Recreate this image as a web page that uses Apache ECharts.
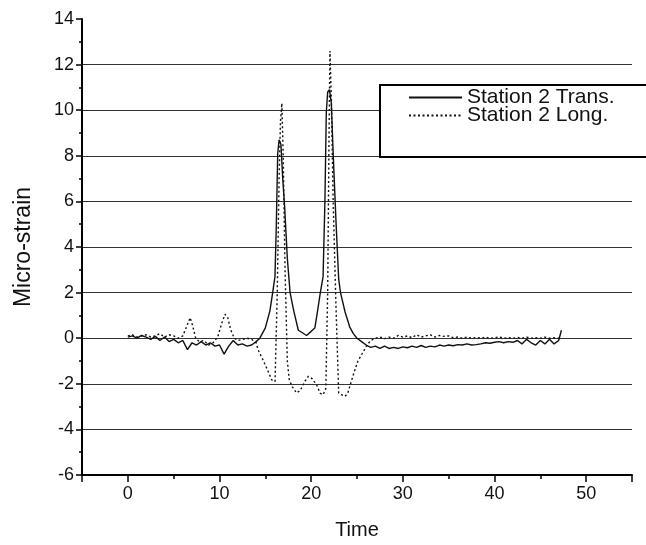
<!DOCTYPE html>
<html>
<head>
<meta charset="utf-8">
<script src="https://cdn.jsdelivr.net/npm/echarts@6/dist/echarts.min.js"></script>
<style>
html,body{margin:0;padding:0;background:#fff;}
#chart{width:646px;height:545px;}
</style>
</head>
<body>
<div id="chart"></div>
<script>
// Station 2 Trans. (solid) : [time, micro-strain]
const transPoints = [
  [0,0.05],[0.5,0.1],[1,0.0],[1.5,0.12],[2,0.05],[2.5,-0.05],[3,0.08],[3.5,-0.1],[4,0.05],[4.5,-0.15],
  [5,-0.05],[5.5,-0.2],[6,-0.1],[6.5,-0.5],[7,-0.2],[7.5,-0.3],[8,-0.15],[8.5,-0.3],[9,-0.2],[9.5,-0.35],
  [10,-0.3],[10.5,-0.7],[11,-0.35],[11.5,-0.1],[12,-0.3],[12.5,-0.25],[13,-0.35],[13.5,-0.3],[14,-0.15],[14.4,0.0],
  [15,0.45],[15.5,1.2],[15.8,2.0],[16.05,2.7],[16.2,5],[16.35,8.1],[16.5,8.7],[16.7,8.5],[16.9,7],[17.1,5.8],
  [17.4,3.5],[17.7,2.0],[18.1,1.2],[18.6,0.35],[19,0.25],[19.5,0.12],[20,0.3],[20.4,0.45],[20.7,1.2],[21,2.0],
  [21.3,2.7],[21.5,6],[21.65,9.9],[21.8,10.8],[22,10.9],[22.2,10.3],[22.4,8.1],[22.7,5.2],[23,2.6],[23.2,2.0],
  [23.7,1.15],[24.2,0.5],[24.6,0.2],[25,0.0],[25.5,-0.15],[26,-0.3],[26.5,-0.4],[27,-0.35],[27.5,-0.45],[28,-0.35],
  [28.5,-0.45],[29,-0.4],[29.5,-0.45],[30,-0.38],[30.5,-0.42],[31,-0.35],[31.5,-0.4],[32,-0.32],[32.5,-0.4],[33,-0.35],
  [33.5,-0.38],[34,-0.3],[34.5,-0.35],[35,-0.3],[35.5,-0.33],[36,-0.28],[36.5,-0.3],[37,-0.25],[37.5,-0.3],[38,-0.28],
  [38.5,-0.25],[39,-0.2],[39.5,-0.22],[40,-0.18],[40.5,-0.15],[41,-0.2],[41.5,-0.15],[42,-0.18],[42.5,-0.1],[43,-0.25],
  [43.5,-0.05],[44,-0.2],[44.5,-0.3],[45,-0.1],[45.5,-0.25],[46,-0.05],[46.5,-0.25],[47,-0.1],[47.3,0.35]
];
// Station 2 Long. (dotted) : [time, micro-strain]
const longPoints = [
  [0,0.1],[0.5,0.15],[1,0.05],[1.5,0.1],[2,0.15],[2.5,0.05],[3,0.1],[3.5,0.2],[4,0.05],[4.5,0.15],
  [5,0.1],[5.5,0.0],[6,0.1],[6.4,0.5],[6.8,0.9],[7.1,0.5],[7.4,0.0],[7.8,-0.15],[8.3,-0.1],[8.8,-0.3],
  [9.3,-0.2],[9.8,0.05],[10.2,0.6],[10.6,1.05],[10.9,0.9],[11.2,0.4],[11.6,0.0],[12,-0.1],[12.5,-0.05],[13,0.0],
  [13.5,-0.05],[14,-0.2],[14.2,-0.5],[14.8,-1.0],[15.3,-1.45],[15.7,-1.83],[16.06,-1.9],[16.3,2],[16.5,7],[16.65,9.5],
  [16.8,10.3],[16.95,8],[17.15,3],[17.4,-1.0],[17.6,-1.8],[17.9,-2.1],[18.4,-2.4],[18.8,-2.3],[19.3,-1.9],[19.7,-1.67],
  [20.1,-1.77],[20.6,-2.05],[20.97,-2.41],[21.3,-2.48],[21.6,-2.2],[21.8,2],[21.95,9],[22.05,12.6],[22.2,10.5],[22.4,6],
  [22.7,1.5],[23,-2.4],[23.4,-2.5],[23.7,-2.55],[24,-2.4],[24.6,-1.6],[25.1,-1.0],[25.7,-0.58],[26.1,-0.3],[26.5,-0.1],
  [27,0.0],[27.5,0.05],[28,-0.02],[28.5,0.05],[29,0.0],[29.5,0.12],[30,0.05],[30.5,0.1],[31,0.02],[31.5,0.15],
  [32,0.05],[32.5,0.1],[33,0.15],[33.5,0.05],[34,0.12],[34.5,0.08],[35,0.1],[35.5,0.02],[36,0.05],[36.5,0.0],
  [37,0.05],[37.5,0.0],[38,0.03],[38.5,0.0],[39,0.05],[39.5,0.0],[40,0.02],[40.5,0.05],[41,0.0],[41.5,0.02],
  [42,0.0],[42.5,0.03],[43,0.0],[43.5,0.05],[44,0.0],[44.5,0.02],[45,0.0],[45.5,0.05],[46,0.0],[46.5,0.02],[47,0.0],[47.3,0.05]
];
const seriesNames = ['Station 2 Trans.', 'Station 2 Long.'];
const xMin = -5, xMax = 55, xStep = 5;
const yMin = -6, yMax = 14, yStep = 2;

const chart = echarts.init(document.getElementById('chart'), null, {renderer: 'canvas'});
const font = 'Liberation Sans, Arial, sans-serif';
const option = {
  animation: false,
  backgroundColor: '#fff',
  grid: {left: 82, right: 14, top: 19, bottom: 68, containLabel: false},
  legend: {
    orient: 'vertical', left: 380, top: 85,
    padding: [2, 40, 31, 28], itemGap: -3, itemWidth: 53, itemHeight: 14,
    borderColor: '#000', borderWidth: 2, backgroundColor: '#fff',
    itemStyle: {color: 'rgba(0,0,0,0)', borderWidth: 0, opacity: 0},
    textStyle: {fontFamily: font, fontSize: 21, color: '#111'},
    data: seriesNames
  },
  xAxis: [{
    type: 'value', min: xMin, max: xMax, interval: xStep,
    name: 'Time', nameLocation: 'middle', nameGap: 45,
    nameTextStyle: {fontFamily: font, fontSize: 20, color: '#111'},
    axisLine: {show: true, onZero: false, lineStyle: {color: '#000', width: 2}},
    axisTick: {show: true, inside: false, length: 4, lineStyle: {color: '#000', width: 1.5}},
    axisLabel: {margin: 10, fontFamily: font, fontSize: 18, color: '#111',
      formatter: v => (v % 10 === 0 && v >= 0 && v <= 50) ? String(v) : ''},
    splitLine: {show: false}
  }, {
    type: 'value', min: xMin, max: xMax, splitNumber: 6, position: 'bottom',
    axisLine: {show: false, onZero: false},
    axisTick: {show: true, inside: false, length: 7, lineStyle: {color: '#000', width: 1.5}},
    axisLabel: {show: false},
    splitLine: {show: false}
  }],
  yAxis: {
    type: 'value', min: yMin, max: yMax, interval: yStep,
    name: 'Micro-strain', nameLocation: 'middle', nameGap: 47,
    nameTextStyle: {fontFamily: font, fontSize: 23, color: '#111'},
    axisLine: {show: true, onZero: false, lineStyle: {color: '#000', width: 2}},
    axisTick: {show: true, inside: false, length: 6, lineStyle: {color: '#000', width: 1.5}},
    minorTick: {show: true, splitNumber: 2, length: 3, lineStyle: {color: '#000', width: 1.5}},
    axisLabel: {margin: 8, fontFamily: font, fontSize: 18, color: '#111'},
    splitLine: {show: true, showMinLine: false, showMaxLine: false, lineStyle: {color: '#333', width: 1.2}}
  },
  series: [{
    name: seriesNames[0], type: 'line', data: transPoints, symbol: 'none', showSymbol: false,
    lineStyle: {color: '#111', width: 1.4, type: 'solid'}, itemStyle: {color: '#111'}, z: 3
  }, {
    name: seriesNames[1], type: 'line', data: longPoints, symbol: 'none', showSymbol: false,
    lineStyle: {color: '#111', width: 1.4, type: [2, 2.5]}, itemStyle: {color: '#111'}, z: 3
  }]
};
chart.setOption(option);
</script>
</body>
</html>
